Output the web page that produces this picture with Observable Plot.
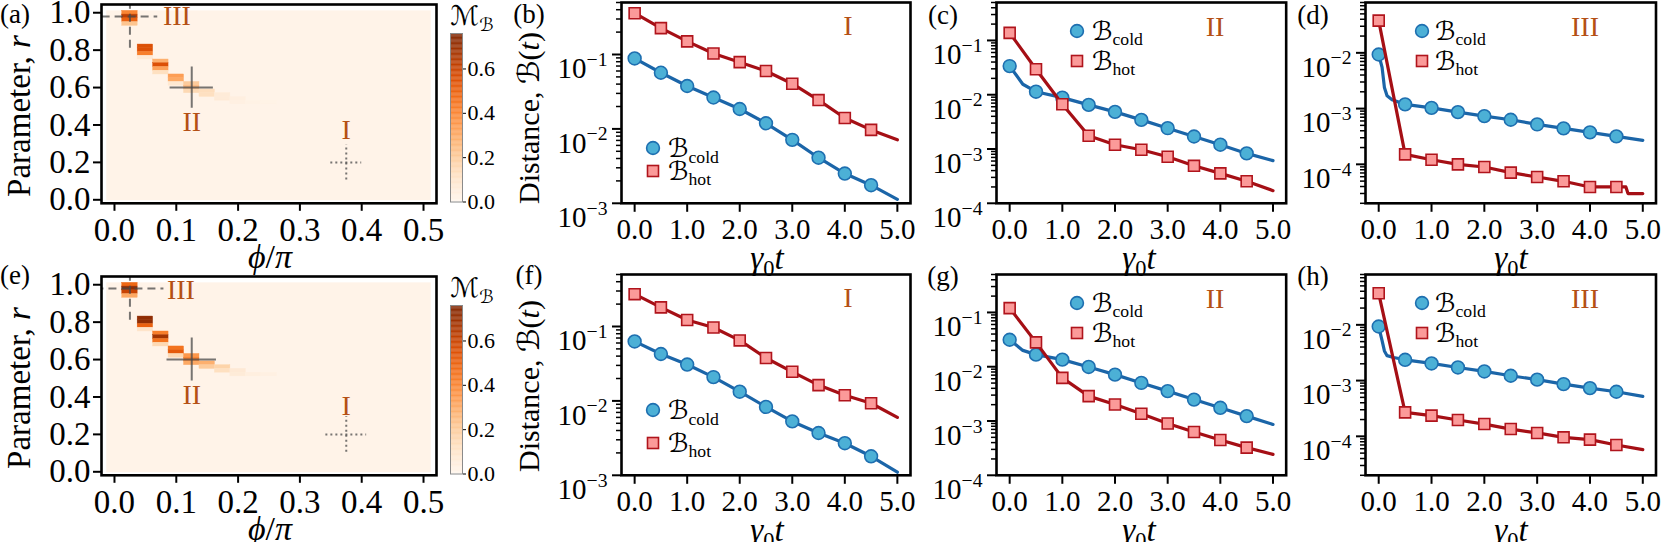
<!DOCTYPE html>
<html>
<head>
<meta charset="utf-8">
<script src="https://cdn.jsdelivr.net/npm/d3@7"></script>
<script src="https://cdn.jsdelivr.net/npm/@observablehq/plot@0.6"></script>
<style>
html,body{margin:0;padding:0;background:#fff;}
#fig{position:relative;width:1661px;height:542px;overflow:hidden;background:#fff;font-family:'Liberation Serif','Times New Roman',serif;color:#000;}
.t{position:absolute;white-space:nowrap;line-height:1;}
.sb{font-size:0.68em;position:relative;top:0.3em;}
.cal{font-family:'DejaVu Serif','DejaVu Sans',serif;}
</style>
</head>
<body>
<div id="fig"></div>
<script>
// ---------------- data ----------------
const tGrid = [0, 0.5, 1, 1.5, 2, 2.5, 3, 3.5, 4, 4.5, 5];
const tMarkerMax = 4.5;
const tTicks = [0, 1, 2, 3, 4, 5];

// panel (b) regime I
const coldB = [0.0885, 0.0569, 0.0377, 0.0264, 0.0185, 0.0119, 0.00713, 0.0041, 0.00251, 0.00175, 0.00113];
const hotB  = [0.359, 0.226, 0.150, 0.103, 0.0789, 0.0599, 0.0405, 0.0244, 0.0140, 0.0097, 0.00713];
// panel (c) regime II
const coldC = [0.0337, 0.01137, 0.00883, 0.00649, 0.00483, 0.00344, 0.00242, 0.0017, 0.0012, 0.00083, 0.00061];
const hotC  = [0.138, 0.0294, 0.00668, 0.00175, 0.0012, 0.00097, 0.00072, 0.00049, 0.000356, 0.000254, 0.000171];
const coldCExtra = [[0.25, 0.0156]];
// panel (d) regime III
const coldD = [0.00933, 0.00119, 0.00103, 0.000865, 0.000733, 0.00063, 0.00052, 0.000441, 0.000374, 0.000317, 0.000269];
const hotD  = [0.0379, 0.000151, 0.000121, 0.0001, 8.96e-5, 7.1e-5, 5.93e-5, 4.96e-5, 3.93e-5, 3.93e-5, 2.99e-5];
const coldDExtra = [[0.064, 0.0055], [0.108, 0.0024], [0.158, 0.0017], [0.253, 0.00144]];
const hotDExtra = [[4.68, 3.93e-5], [4.72, 2.99e-5]];
// panel (f) regime I
const coldF = [0.063, 0.0427, 0.0308, 0.0209, 0.0133, 0.0083, 0.0053, 0.0037, 0.0027, 0.0018, 0.0011];
const hotF  = [0.272, 0.181, 0.1225, 0.097, 0.065, 0.0377, 0.0246, 0.0163, 0.0119, 0.0093, 0.006];
// panel (g) regime II
const coldG = [0.0314, 0.0167, 0.0135, 0.0099, 0.00715, 0.00503, 0.00355, 0.00248, 0.00175, 0.00123, 0.000863];
const hotG  = [0.12, 0.0281, 0.00622, 0.00287, 0.00201, 0.00136, 0.000902, 0.000627, 0.000447, 0.000323, 0.000243];
const coldGExtra = [[0.25, 0.02]];
// panel (h) regime III
const coldH = [0.00933, 0.00236, 0.00203, 0.00172, 0.00146, 0.00122, 0.00104, 0.000865, 0.000733, 0.00063, 0.00052];
const hotH  = [0.0368, 0.000269, 0.000235, 0.000196, 0.000166, 0.000135, 0.000115, 9.6e-5, 8.73e-5, 6.99e-5, 5.78e-5];
const coldHExtra = [[0.064, 0.0052], [0.108, 0.0034], [0.158, 0.0028], [0.284, 0.0026]];

// heat maps (a) and (e)
const phiTicks = [0, 0.1, 0.2, 0.3, 0.4, 0.5];
const rTicks = [0, 0.2, 0.4, 0.6, 0.8, 1.0];
const cbTicks = [0, 0.2, 0.4, 0.6];
const cbMax = 0.76;
const hmPhi = [0.025,0.025,0.025,0.025, 0.05,0.05,0.05,0.05, 0.075,0.075,0.075,0.075, 0.1,0.1,0.1, 0.125,0.125,0.125, 0.15,0.15, 0.175,0.175, 0.2,0.2, 0.225, 0.25];
const hmR   = [1.00,0.98,0.96,0.94, 0.82,0.80,0.78,0.76, 0.74,0.72,0.70,0.68, 0.66,0.64,0.62, 0.62,0.60,0.58, 0.58,0.56, 0.56,0.54, 0.54,0.52, 0.52, 0.52];
const hmValA = [0.40,0.62,0.50,0.22, 0.55,0.55,0.42,0.07, 0.28,0.55,0.32,0.12, 0.33,0.30,0.08, 0.20,0.25,0.15, 0.13,0.12, 0.06,0.06, 0.035,0.03, 0.02, 0.015];
const hmValE = [0.48,0.72,0.60,0.30, 0.72,0.72,0.50,0.10, 0.42,0.68,0.45,0.15, 0.45,0.52,0.15, 0.35,0.42,0.30, 0.28,0.20, 0.17,0.12, 0.07,0.06, 0.04, 0.03];
const hmBackground = 0.01;
const hmPhiExtent = [-0.0125, 0.5125];
const hmRExtent = [-0.005, 1.01];
const hmDphi = 0.025, hmDr = 0.02;
const regName = ["I", "II", "III"];
const regPhi = [0.375, 0.125, 0.025];
const regR = [0.2, 0.6, 0.98];

// ---------------- styles ----------------
const FONT = "'Liberation Serif','Times New Roman',serif";
const ROMAN = "#b45014";
const BLUE_LINE = "#1b65a8", BLUE_FILL = "#4cb0d6", BLUE_EDGE = "#1e6fb0";
const RED_LINE = "#a50f15", RED_FILL = "#fb9a99", RED_EDGE = "#b0141c";
const fig = document.getElementById("fig");
const colorScale = {type: "linear", scheme: "oranges", domain: [0, cbMax]};

function place(svg, left, top) {
  svg.style.position = "absolute";
  svg.style.left = left + "px";
  svg.style.top = top + "px";
  fig.appendChild(svg);
}
function label(htmlStr, cx, cy, size, opts = {}) {
  const d = document.createElement("div");
  d.className = "t";
  d.innerHTML = htmlStr;
  d.style.left = cx + "px";
  d.style.top = cy + "px";
  d.style.fontSize = size + "px";
  if (opts.color) d.style.color = opts.color;
  d.style.transform = opts.left ? "translate(0,-50%)" : ("translate(-50%,-50%)" + (opts.rot ? " rotate(-90deg)" : ""));
  fig.appendChild(d);
}
function supTicks(svg) {
  const ns = "http://www.w3.org/2000/svg";
  svg.querySelectorAll("text").forEach(t => {
    const m = /^10\^(-?\d+)$/.exec(t.textContent);
    if (!m) return;
    t.textContent = "";
    const a = document.createElementNS(ns, "tspan"); a.textContent = "10";
    const b = document.createElementNS(ns, "tspan"); b.textContent = m[1].replace("-", "\u2212");
    b.setAttribute("dy", "-0.62em"); b.setAttribute("font-size", "0.68em");
    t.setAttribute("dy", "0.5em");
    t.append(a, b);
  });
}
function minorTicks([lo, hi]) {
  const out = [];
  for (let k = Math.floor(Math.log10(lo)) - 1; k <= Math.ceil(Math.log10(hi)); k++)
    for (let m = 2; m <= 9; m++) { const v = m * Math.pow(10, k); if (v >= lo * 0.999 && v <= hi * 1.001) out.push(v); }
  return out;
}

// ---------------- heat map panel ----------------
function heatPanel(vals, yOff, cfg) {
  const fl = 101, fr = 436, ft = 3.7 + yOff, fb = 202.5 + yOff;
  const mL = 70, mR = 8, mT = 6, mB = 50;
  const cells = hmPhi.map((p, i) => ({phi: p, r: hmR[i], v: vals[i]}));
  const bg = [{x1: hmPhiExtent[0], x2: hmPhiExtent[1], y1: hmRExtent[0], y2: hmRExtent[1], v: hmBackground}];
  const reg = regName.map((n, i) => ({name: n, phi: regPhi[i], r: regR[i]}));
  const ruleStyle = {stroke: "#4a4a4a", strokeOpacity: 0.75, strokeWidth: 2, clip: true};
  const regMarks = reg.flatMap(g => {
    const c = cfg[g.name];
    return [
      Plot.ruleY([g], {y: "r", x1: d => d.phi - c.hx, x2: d => d.phi + c.hx, strokeDasharray: c.dash, ...ruleStyle}),
      Plot.ruleX([g], {x: "phi", y1: d => d.r - c.hy, y2: d => d.r + c.hy, strokeDasharray: c.dash, ...ruleStyle}),
      Plot.text([g], {x: "phi", y: "r", text: "name", dx: c.dx, dy: c.dy, fill: ROMAN, fontSize: 28, fontFamily: FONT})
    ];
  });
  const svg = Plot.plot({
    width: (fr - fl) + mL + mR, height: (fb - ft) + mT + mB,
    marginLeft: mL, marginRight: mR, marginTop: mT, marginBottom: mB,
    style: `font-family:${FONT};font-size:33px;background:transparent;overflow:visible;color:#000;`,
    x: {domain: [-0.021, 0.521], label: null},
    y: {domain: [-0.0187, 1.044], label: null},
    color: colorScale,
    marks: [
      Plot.rect(bg, {x1: "x1", x2: "x2", y1: "y1", y2: "y2", fill: "v"}),
      Plot.rect(cells, {x1: d => d.phi - hmDphi / 2, x2: d => d.phi + hmDphi / 2, y1: d => d.r - hmDr / 2, y2: d => d.r + hmDr / 2, fill: "v", stroke: "v", strokeWidth: 0.4}),
      ...regMarks,
      Plot.frame({stroke: "black", strokeWidth: 2.6}),
      Plot.axisX({ticks: phiTicks, tickFormat: d3.format(".1f"), tickSize: 8, tickPadding: 6, strokeWidth: 2, fontSize: 33, label: null}),
      Plot.axisY({ticks: rTicks, tickFormat: d3.format(".1f"), tickSize: 8, tickPadding: 3, strokeWidth: 2, fontSize: 33, label: null})
    ]
  });
  place(svg, fl - mL, ft - mT);
}

function colorbar(yOff) {
  const fl = 450, fr = 462, ft = 33 + yOff, fb = 201.5 + yOff;
  const mL = 4, mR = 50, mT = 4, mB = 14;
  const n = 200;
  const steps = d3.range(n).map(i => ({v: cbMax * i / n}));
  const svg = Plot.plot({
    width: (fr - fl) + mL + mR, height: (fb - ft) + mT + mB,
    marginLeft: mL, marginRight: mR, marginTop: mT, marginBottom: mB,
    style: `font-family:${FONT};font-size:22px;background:transparent;overflow:visible;color:#000;`,
    x: {domain: [0, 1], axis: null},
    y: {domain: [0, cbMax], label: null},
    color: colorScale,
    marks: [
      Plot.rect(steps, {x1: 0, x2: 1, y1: "v", y2: d => d.v + cbMax / n * 1.2, fill: "v", clip: true}),
      Plot.frame({stroke: "#8a8a8a", strokeWidth: 1}),
      Plot.axisY({anchor: "right", ticks: cbTicks, tickFormat: d3.format(".1f"), tickSize: 3, tickPadding: 2, strokeWidth: 1, fontSize: 22, label: null})
    ]
  });
  place(svg, fl - mL, ft - mT);
}

// ---------------- line panel ----------------
function series(vals, extra) {
  return tGrid.map((t, i) => ({t, v: vals[i]})).concat(extra.map(([t, v]) => ({t, v}))).sort((a, b) => a.t - b.t);
}
function markers(vals) {
  return tGrid.map((t, i) => ({t, v: vals[i]})).filter(d => d.t <= tMarkerMax);
}
function linePanel(p, yOff) {
  const ft = 1.7 + yOff, fb = 202.5 + yOff;
  const mL = 80, mR = 8, mT = 4, mB = 50;
  const svg = Plot.plot({
    width: (p.fr - p.fl) + mL + mR, height: (fb - ft) + mT + mB,
    marginLeft: mL, marginRight: mR, marginTop: mT, marginBottom: mB,
    style: `font-family:${FONT};font-size:29px;background:transparent;overflow:visible;color:#000;`,
    x: {domain: [-0.25, 5.25], label: null},
    y: {type: "log", domain: p.domain, label: null},
    marks: [
      Plot.line(series(p.cold, p.coldX), {x: "t", y: "v", stroke: BLUE_LINE, strokeWidth: 3.2}),
      Plot.dot(markers(p.cold), {x: "t", y: "v", r: 6.4, fill: BLUE_FILL, stroke: BLUE_EDGE, strokeWidth: 1.6}),
      Plot.line(series(p.hot, p.hotX), {x: "t", y: "v", stroke: RED_LINE, strokeWidth: 3.2}),
      Plot.dot(markers(p.hot), {x: "t", y: "v", symbol: "square", r: 6.2, fill: RED_FILL, stroke: RED_EDGE, strokeWidth: 1.6}),
      Plot.frame({stroke: "black", strokeWidth: 2.6}),
      Plot.axisY({ticks: minorTicks(p.domain), tickSize: 5, strokeWidth: 1.5, fill: "none", tickFormat: () => "", label: null}),
      Plot.axisY({ticks: p.major, tickSize: 9, tickPadding: 5, strokeWidth: 2, fontSize: 29, tickFormat: d => "10^" + Math.round(Math.log10(d)), label: null}),
      Plot.axisX({ticks: tTicks, tickFormat: d3.format(".1f"), tickSize: 9, tickPadding: 6, strokeWidth: 2, fontSize: 29, label: null})
    ]
  });
  supTicks(svg);
  place(svg, p.fl - mL, ft - mT);
}

// ---------------- build ----------------
const ROW2 = 272;
heatPanel(hmValA, 0, {
  I: {hx: 0.025, hy: 0.094, dash: "2,3", dx: 0, dy: -32},
  II: {hx: 0.035, hy: 0.11, dash: undefined, dx: 0, dy: 34},
  III: {hx: 0.045, hy: 0.17, dash: "8,5", dx: 47, dy: 0}
});
heatPanel(hmValE, ROW2, {
  I: {hx: 0.033, hy: 0.095, dash: "2,3", dx: 0, dy: -28},
  II: {hx: 0.04, hy: 0.115, dash: undefined, dx: 0, dy: 35},
  III: {hx: 0.055, hy: 0.17, dash: "8,5", dx: 51, dy: 2}
});
colorbar(0);
colorbar(ROW2);

const panels = [
  {row: 0, fl: 620.5, fr: 909.5, domain: [1e-3, 0.5], major: [1e-3, 1e-2, 1e-1], cold: coldB, hot: hotB, coldX: [], hotX: []},
  {row: 0, fl: 995.8, fr: 1285.5, domain: [1e-4, 0.5], major: [1e-4, 1e-3, 1e-2, 1e-1], cold: coldC, hot: hotC, coldX: coldCExtra, hotX: []},
  {row: 0, fl: 1365, fr: 1655.5, domain: [2e-5, 0.08], major: [1e-4, 1e-3, 1e-2], cold: coldD, hot: hotD, coldX: coldDExtra, hotX: hotDExtra},
  {row: 1, fl: 620.5, fr: 909.5, domain: [1e-3, 0.5], major: [1e-3, 1e-2, 1e-1], cold: coldF, hot: hotF, coldX: [], hotX: []},
  {row: 1, fl: 995.8, fr: 1285.5, domain: [1e-4, 0.5], major: [1e-4, 1e-3, 1e-2, 1e-1], cold: coldG, hot: hotG, coldX: coldGExtra, hotX: []},
  {row: 1, fl: 1365, fr: 1655.5, domain: [2e-5, 0.08], major: [1e-4, 1e-3, 1e-2], cold: coldH, hot: hotH, coldX: coldHExtra, hotX: []}
];
panels.forEach(p => linePanel(p, p.row * ROW2));

// ---------------- text overlays ----------------
const B = '<span class="cal">ℬ</span>';
[0, ROW2].forEach((y, k) => {
  const ly = k === 0 ? 14 : 275;
  const L = k === 0 ? ["(a)", "(b)", "(c)", "(d)"] : ["(e)", "(f)", "(g)", "(h)"];
  label(L[0], 15, ly, 27);
  label(L[1], 529, ly, 27);
  label(L[2], 943, ly + 1, 27);
  label(L[3], 1313, ly + 1, 27);
  label('Parameter, <i>r</i>', 19, 116 + y, 33, {rot: true});
  label('<i>ϕ</i>/<i>π</i>', 270, 257 + y, 34);
  label('Distance, ' + B + '(<i>t</i>)', 529, (k === 0 ? 118 : 114) + y, 30, {rot: true});
  [767, 1139, 1511].forEach(cx => label('<i>γ</i><span class="sb">0</span><i>t</i>', cx, 258 + y, 33));
  label('<span class="cal">ℳ</span><span class="sb cal">ℬ</span>', 472, 16 + y, 27);
  label('I', 848, 26 + y, 28, {color: ROMAN});
  label('II', 1215, 27 + y, 28, {color: ROMAN});
  label('III', 1585, 27 + y, 28, {color: ROMAN});
});

function legendMarker(kind, cx, cy) {
  const ns = "http://www.w3.org/2000/svg";
  const s = document.createElementNS(ns, "svg");
  s.setAttribute("width", 18); s.setAttribute("height", 18);
  s.style.position = "absolute"; s.style.left = (cx - 9) + "px"; s.style.top = (cy - 9) + "px";
  let el;
  if (kind === "cold") {
    el = document.createElementNS(ns, "circle");
    el.setAttribute("cx", 9); el.setAttribute("cy", 9); el.setAttribute("r", 6.4);
    el.setAttribute("fill", BLUE_FILL); el.setAttribute("stroke", BLUE_EDGE);
  } else {
    el = document.createElementNS(ns, "rect");
    el.setAttribute("x", 3.5); el.setAttribute("y", 3.5); el.setAttribute("width", 11); el.setAttribute("height", 11);
    el.setAttribute("fill", RED_FILL); el.setAttribute("stroke", RED_EDGE);
  }
  el.setAttribute("stroke-width", 1.6);
  s.appendChild(el);
  fig.appendChild(s);
}
const legends = [
  {mx: 653, tx: 668, yc: 148.3, yh: 170.7},
  {mx: 1077, tx: 1092, yc: 30.7, yh: 61},
  {mx: 1421.7, tx: 1435, yc: 30.7, yh: 61},
  {mx: 653, tx: 668, yc: 138.3 + ROW2, yh: 170.7 + ROW2},
  {mx: 1077, tx: 1092, yc: 30.7 + ROW2, yh: 61 + ROW2},
  {mx: 1421.7, tx: 1435, yc: 30.7 + ROW2, yh: 61 + ROW2}
];
legends.forEach(l => {
  legendMarker("cold", l.mx, l.yc);
  legendMarker("hot", l.mx, l.yh);
  label(B + '<span class="sb">cold</span>', l.tx, l.yc, 26, {left: true});
  label(B + '<span class="sb">hot</span>', l.tx, l.yh, 26, {left: true});
});
</script>
</body>
</html>
